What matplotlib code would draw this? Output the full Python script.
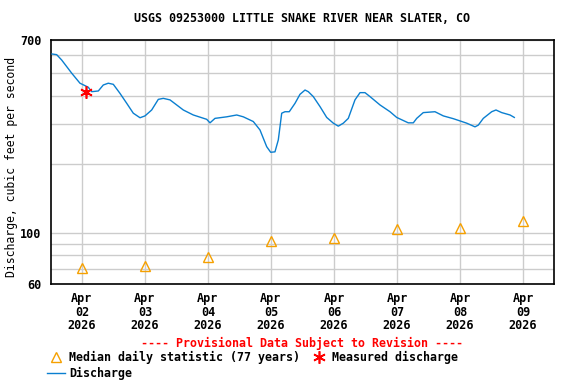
import matplotlib
matplotlib.use("Agg")
import matplotlib.pyplot as plt
from matplotlib.lines import Line2D
from matplotlib.ticker import FixedLocator, NullFormatter, FixedFormatter

plt.rcParams['font.family'] = ['DejaVu Sans Mono']
plt.rcParams['font.weight'] = 'bold'

# Discharge time series (day of April, cfs)
q_day = [1.524, 1.598, 1.678, 1.837, 1.968, 2.100, 2.154, 2.259, 2.338, 2.417,
         2.497, 2.603, 2.710, 2.814, 2.921, 3.000, 3.106, 3.211, 3.290, 3.397,
         3.503, 3.608, 3.767, 3.979, 4.032, 4.111, 4.297, 4.456, 4.560, 4.719,
         4.825, 4.932, 4.995, 5.063, 5.116, 5.170, 5.222, 5.290, 5.381, 5.460,
         5.540, 5.592, 5.671, 5.778, 5.884, 5.989, 6.068, 6.148, 6.227, 6.333,
         6.413, 6.492, 6.571, 6.730, 6.889, 6.995, 7.179, 7.259, 7.313, 7.417,
         7.603, 7.735, 7.894, 8.106, 8.238, 8.290, 8.370, 8.503, 8.571, 8.662,
         8.794, 8.862]
q_val = [608, 604, 572, 501, 453, 435, 416, 419, 445, 453,
         448, 409, 370, 335, 320, 326, 346, 385, 389, 383,
         364, 346, 329, 315, 304, 318, 323, 329, 323, 308,
         283, 239, 226, 227, 256, 335, 340, 340, 370, 405,
         423, 416, 396, 358, 321, 303, 294, 303, 318, 383,
         412, 412, 396, 364, 340, 321, 304, 304, 318, 337,
         340, 326, 317, 303, 292, 297, 318, 340, 346, 337,
         329, 321]

# Median daily statistic
med_day = [2, 3, 4, 5, 6, 7, 8, 9]
med_val = [70.5, 72, 79, 92.5, 95.5, 104.5, 105.5, 113]

# Measured discharge
meas_day = [2.07]
meas_val = [416]

xtick_days = [2, 3, 4, 5, 6, 7, 8, 9]
xtick_labels = ["Apr\n02\n2026", "Apr\n03\n2026", "Apr\n04\n2026", "Apr\n05\n2026",
                "Apr\n06\n2026", "Apr\n07\n2026", "Apr\n08\n2026", "Apr\n09\n2026"]
ytick_major = [60, 100, 700]
ytick_minor = [70, 80, 90, 200, 300, 400, 500, 600]

W, H = 576, 384
fig = plt.figure(figsize=(W / 100, H / 100), dpi=100)
ax = fig.add_axes([51 / W, 1 - 284 / H, (554 - 51) / W, (284 - 40) / H])

ax.plot(q_day, q_val, color='#0a7fd0', lw=1.0, zorder=3)
ax.plot(med_day, med_val, linestyle='none', marker='^', markersize=7,
        markerfacecolor='none', markeredgecolor='#f5a000', markeredgewidth=1.0, zorder=4)
ax.plot(meas_day, meas_val, linestyle='none', marker=(6, 2, 0), markersize=9,
        color='#ff0000', markeredgewidth=1.2, zorder=5)
ax.plot(meas_day, meas_val, linestyle='none', marker='o', markersize=3,
        color='#ff0000', zorder=5)

ax.set_yscale('log')
ax.set_ylim(60, 700)
ax.set_xlim(1.508, 9.492)
ax.yaxis.set_major_locator(FixedLocator(ytick_major))
ax.yaxis.set_minor_locator(FixedLocator(ytick_minor))
ax.yaxis.set_major_formatter(FixedFormatter([str(v) for v in ytick_major]))
ax.yaxis.set_minor_formatter(NullFormatter())
ax.set_xticks(xtick_days)
ax.set_xticklabels(xtick_labels, linespacing=1.05)
ax.tick_params(axis='both', which='both', length=0, labelsize=8.5, pad=6)
ax.tick_params(axis='y', pad=7)
ax.grid(True, which='both', color='#cccccc', lw=1.0, zorder=0)
ax.set_axisbelow(True)
for s in ax.spines.values():
    s.set_linewidth(1.2)

ax.set_ylabel("Discharge, cubic feet per second", fontsize=8.3)
ax.yaxis.set_label_coords((18 - 51) / (554 - 51), 0.48)
fig.text(302 / W, 1 - 19 / H, "USGS 09253000 LITTLE SNAKE RIVER NEAR SLATER, CO",
         ha='center', va='center', fontsize=8.4)
fig.text(302 / W, 1 - 343 / H, "---- Provisional Data Subject to Revision ----",
         ha='center', va='center', fontsize=8.4, color='#ff0000')

h_med = Line2D([], [], linestyle='none', marker='^', markersize=7,
               markerfacecolor='none', markeredgecolor='#f5a000')
h_q = Line2D([], [], color='#0a7fd0', lw=1.0)
h_meas = Line2D([], [], linestyle='none', marker=(6, 2, 0), markersize=9,
                color='#ff0000', markeredgewidth=1.2)
leg = fig.legend([h_med, h_q, h_meas],
                 ["Median daily statistic (77 years)", "Discharge", "Measured discharge"],
                 ncol=2, loc='upper left', bbox_to_anchor=(39 / W, 1 - 343 / H),
                 frameon=False, fontsize=8.4, handlelength=1.5, handletextpad=0.4,
                 columnspacing=0.85, labelspacing=0.2, borderpad=0.2)

fig.savefig("out.png", dpi=100)
